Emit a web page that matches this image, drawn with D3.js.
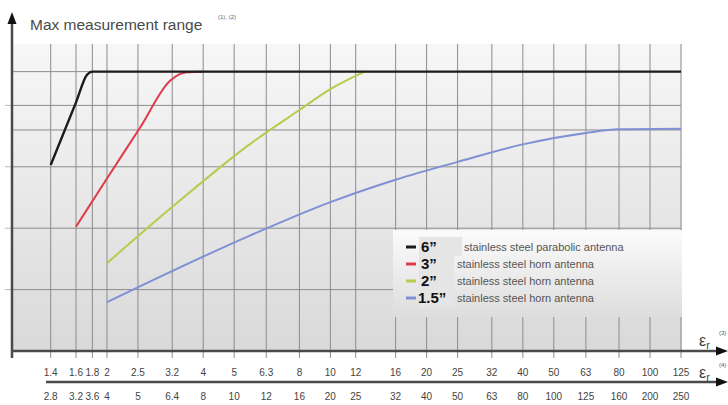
<!DOCTYPE html>
<html>
<head>
<meta charset="utf-8">
<script src="https://cdn.jsdelivr.net/npm/d3@7/dist/d3.min.js"></script>
<style>
  body { margin: 0; background: #fff; }
  svg { display: block; font-family: "Liberation Sans", Arial, sans-serif; }
</style>
</head>
<body>
<svg width="728" height="405"></svg>
<script>
// ticks of the two eps_r scales (second row is 2x the first)
const ticksTop = [1.4, 1.6, 1.8, 2, 2.5, 3.2, 4, 5, 6.3, 8, 10, 12, 16, 20, 25, 32, 40, 50, 63, 80, 100, 125];
const ticksBottom = ["2.8", "3.2", "3.6", "4", "5", "6.4", "8", "10", "12", "16", "20", "25", "32", "40", "50", "63", "80", "100", "125", "160", "200", "250"];
// horizontal grid levels (relative range, no labels in the original)
const yGrid = [20, 40, 60, 72, 80, 91, 100];

// curves: [eps_r, relative range]
const black6 = [[1.4, 60.6], [1.6, 81], [1.73, 89.9], [1.8, 91], [1.9, 91], [125, 91]];
const red3 = [[1.6, 40.5], [2, 56.2], [2.54, 72.8], [3.15, 88], [3.55, 90.8], [4, 91]];
const green2 = [[2, 28.6], [3.15, 46.3], [5.6, 67.4], [8, 78.5], [10, 85.3], [12.8, 91]];
const blue15 = [[2, 15.9], [5.6, 37.6], [10, 48.5], [16, 55.8], [25, 61.6], [40, 67.3], [63, 71.0], [80, 72.2], [125, 72.4]];

const seriesNames = ["6\u201D", "3\u201D", "2\u201D", "1.5\u201D"];
const seriesText = ["stainless steel parabolic antenna", "stainless steel horn antenna", "stainless steel horn antenna", "stainless steel horn antenna"];
const seriesColors = ["#1b1b1b", "#e23a4c", "#b3cd4c", "#7f90d4"];

const svg = d3.select("svg");

const x = d3.scaleLog().domain([1.4, 1.6, 125]).range([50.7, 76, 681]);
const y = d3.scaleLinear().domain([0, 100]).range([351, 44]);

// gradient backgrounds
const defs = svg.append("defs");
const g1 = defs.append("linearGradient").attr("id", "bg").attr("x1", 0).attr("y1", 0).attr("x2", 0).attr("y2", 1);
g1.append("stop").attr("offset", "0%").attr("stop-color", "#f7f7f7");
g1.append("stop").attr("offset", "100%").attr("stop-color", "#d9d9d9");
const g2 = defs.append("linearGradient").attr("id", "lg").attr("x1", 0).attr("y1", 0).attr("x2", 0).attr("y2", 1);
g2.append("stop").attr("offset", "0%").attr("stop-color", "#fbfbfb");
g2.append("stop").attr("offset", "100%").attr("stop-color", "#dddddd");

svg.append("rect")
  .attr("x", 13).attr("y", y(100))
  .attr("width", x(125) + 1 - 13).attr("height", y(0) - y(100))
  .attr("fill", "url(#bg)");

// grid
svg.append("g")
  .selectAll("line")
  .data(yGrid.filter((d) => d < 100))
  .join("line")
  .attr("x1", 13).attr("x2", x(125))
  .attr("y1", (d) => y(d)).attr("y2", (d) => y(d))
  .attr("stroke", "#8c8c8c").attr("stroke-width", 1);

svg.append("g")
  .selectAll("line")
  .data(ticksTop)
  .join("line")
  .attr("x1", (d) => x(d)).attr("x2", (d) => x(d))
  .attr("y1", y(100)).attr("y2", y(0) + 7)
  .attr("stroke", "#8c8c8c").attr("stroke-width", 1);

// small ticks left of the y axis
svg.append("g")
  .selectAll("line")
  .data(yGrid.filter((d) => d <= 80 && d !== 72))
  .join("line")
  .attr("x1", 5).attr("x2", 12)
  .attr("y1", (d) => y(d)).attr("y2", (d) => y(d))
  .attr("stroke", "#bbb");

// legend box (covers the grid)
const lg = svg.append("g");
lg.append("rect").attr("x", 393).attr("y", 230).attr("width", x(125) + 1 - 393).attr("height", 87)
  .attr("fill", "url(#lg)");

// curves
const line = d3.line().x((d) => x(d[0])).y((d) => y(d[1])).curve(d3.curveMonotoneX);
[blue15, green2, red3, black6].forEach((s, i) => {
  svg.append("path")
    .datum(s)
    .attr("d", line)
    .attr("fill", "none")
    .attr("stroke", seriesColors[3 - i])
    .attr("stroke-width", i === 3 ? 2.4 : 2)
    .attr("stroke-linejoin", "round");
});

// legend entries
lg.append("rect").attr("x", 419).attr("y", 237).attr("width", 43).attr("height", 19).attr("fill", "#e5e5e5");
lg.append("rect").attr("x", 419).attr("y", 256).attr("width", 35).attr("height", 51).attr("fill", "#e5e5e5");
seriesNames.forEach((n, i) => {
  const yy = 247 + i * 17;
  lg.append("line").attr("x1", 406).attr("x2", 416).attr("y1", yy).attr("y2", yy)
    .attr("stroke", seriesColors[i]).attr("stroke-width", 3);
  lg.append("text").attr("x", i === 3 ? 418 : 421).attr("y", yy + 5)
    .attr("font-size", 15).attr("font-weight", "bold").attr("fill", "#111").text(n);
  lg.append("text").attr("x", i === 0 ? 464 : 457).attr("y", yy + 4)
    .attr("font-size", 11).attr("fill", "#555").text(seriesText[i]);
});

// axes
const axisColor = "#4a4a4a";
svg.append("line").attr("x1", 12).attr("x2", 12).attr("y1", 22).attr("y2", 358)
  .attr("stroke", axisColor).attr("stroke-width", 2.5);
svg.append("path").attr("d", "M12,12 L7.5,24 L16.5,24 Z").attr("fill", "#111");

svg.append("line").attr("x1", 12).attr("x2", 718).attr("y1", y(0)).attr("y2", y(0))
  .attr("stroke", axisColor).attr("stroke-width", 2.5);
svg.append("path").attr("d", `M728,${y(0)} L716,${y(0) - 4.5} L716,${y(0) + 4.5} Z`).attr("fill", "#111");

svg.append("line").attr("x1", 46).attr("x2", 718).attr("y1", 382).attr("y2", 382)
  .attr("stroke", axisColor).attr("stroke-width", 2.5);
svg.append("path").attr("d", "M728,382 L716,377.5 L716,386.5 Z").attr("fill", "#111");

// tick labels
svg.append("g")
  .selectAll("text")
  .data(ticksTop)
  .join("text")
  .attr("x", (d) => x(d)).attr("y", 376)
  .attr("text-anchor", "middle").attr("font-size", 10).attr("fill", "#444")
  .text((d) => d);

svg.append("g")
  .selectAll("text")
  .data(ticksBottom)
  .join("text")
  .attr("x", (d, i) => x(ticksTop[i])).attr("y", 400)
  .attr("text-anchor", "middle").attr("font-size", 10).attr("fill", "#444")
  .text((d) => d);

// eps_r labels
[[346, "(3)"], [378, "(4)"]].forEach(([yy, note]) => {
  const t = svg.append("text").attr("x", 699).attr("y", yy).attr("fill", "#444");
  t.append("tspan").attr("font-size", 16).text("\u03B5");
  t.append("tspan").attr("font-size", 11).attr("dy", 3).text("r");
  svg.append("text").attr("x", 719).attr("y", yy - 11).attr("font-size", 6).attr("fill", "#555").text(note);
});

// title
svg.append("text").attr("x", 30).attr("y", 30)
  .attr("font-size", 15.5).attr("fill", "#4a4a4a").text("Max measurement range");
svg.append("text").attr("x", 218).attr("y", 19)
  .attr("font-size", 6).attr("fill", "#666").text("(1), (2)");
</script>
</body>
</html>
